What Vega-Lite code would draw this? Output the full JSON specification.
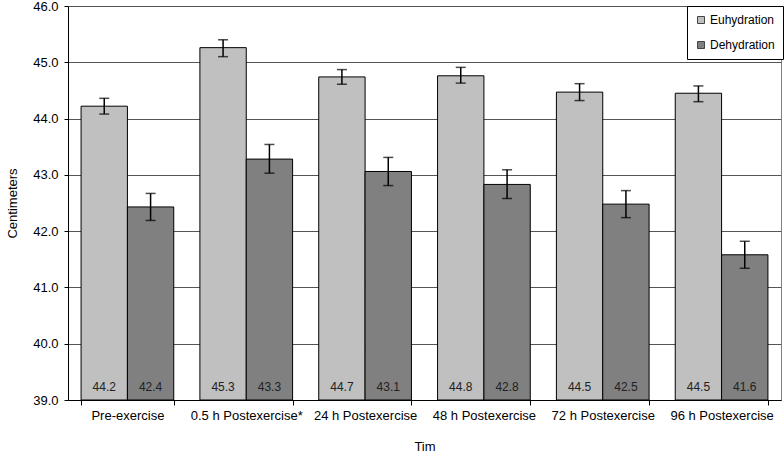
{
  "$schema": "https://vega.github.io/schema/vega-lite/v6.json",
  "width": 713,
  "height": 394,
  "autosize": {"type": "none"},
  "padding": {"left": 68, "top": 6, "right": 3, "bottom": 56},
  "config": {
    "font": "Liberation Sans",
    "view": {"stroke": "#808080", "strokeWidth": 1},
    "axis": {"labelColor": "#000", "titleColor": "#000", "domainColor": "#000", "tickColor": "#000", "labelFontSize": 13, "titleFontSize": 13, "titleFontWeight": "normal"}
  },
  "data": {
    "values": [
      {"time": "Pre-exercise", "cond": "Euhydration", "value": 44.22, "lo": 44.08, "hi": 44.36},
      {"time": "Pre-exercise", "cond": "Dehydration", "value": 42.43, "lo": 42.19, "hi": 42.67},
      {"time": "0.5 h Postexercise*", "cond": "Euhydration", "value": 45.26, "lo": 45.10, "hi": 45.40},
      {"time": "0.5 h Postexercise*", "cond": "Dehydration", "value": 43.28, "lo": 43.03, "hi": 43.54},
      {"time": "24 h Postexercise", "cond": "Euhydration", "value": 44.74, "lo": 44.61, "hi": 44.87},
      {"time": "24 h Postexercise", "cond": "Dehydration", "value": 43.06, "lo": 42.81, "hi": 43.31},
      {"time": "48 h Postexercise", "cond": "Euhydration", "value": 44.76, "lo": 44.63, "hi": 44.91},
      {"time": "48 h Postexercise", "cond": "Dehydration", "value": 42.83, "lo": 42.58, "hi": 43.09},
      {"time": "72 h Postexercise", "cond": "Euhydration", "value": 44.47, "lo": 44.32, "hi": 44.62},
      {"time": "72 h Postexercise", "cond": "Dehydration", "value": 42.48, "lo": 42.24, "hi": 42.72},
      {"time": "96 h Postexercise", "cond": "Euhydration", "value": 44.45, "lo": 44.30, "hi": 44.58},
      {"time": "96 h Postexercise", "cond": "Dehydration", "value": 41.58, "lo": 41.34, "hi": 41.82}
    ]
  },
  "encoding": {
    "x": {
      "field": "time", "type": "nominal", "sort": null,
      "scale": {"paddingInner": 0.22, "paddingOuter": 0.11},
      "axis": {"title": "Tim", "labelAngle": 0, "tickBand": "extent", "tickSize": 5, "labelPadding": 4, "titlePadding": 18, "domainWidth": 1}
    },
    "xOffset": {"field": "cond", "type": "nominal", "sort": ["Euhydration", "Dehydration"], "scale": {"paddingInner": 0, "paddingOuter": 0}}
  },
  "layer": [
    {
      "mark": {"type": "bar", "stroke": "#000", "strokeWidth": 1, "clip": true},
      "encoding": {
        "y": {
          "field": "value", "type": "quantitative",
          "scale": {"domain": [39, 46], "zero": false, "nice": false},
          "axis": {"title": "Centimeters", "format": ".1f", "values": [39, 40, 41, 42, 43, 44, 45, 46], "grid": true, "gridColor": "#555", "gridWidth": 1, "tickSize": 4, "labelPadding": 6, "titlePadding": 13, "domainWidth": 1}
        },
        "y2": {"datum": 39},
        "color": {
          "field": "cond", "type": "nominal",
          "scale": {"domain": ["Euhydration", "Dehydration"], "range": ["#C0C0C0", "#808080"]},
          "legend": {
            "title": null, "orient": "none", "legendX": 619, "legendY": 0,
            "fillColor": "#fff", "strokeColor": "#000", "padding": 8,
            "symbolType": "square", "symbolSize": 49, "symbolStrokeColor": "#444", "symbolStrokeWidth": 1,
            "labelFontSize": 12, "labelColor": "#000", "labelOffset": 3, "rowPadding": 13
          }
        }
      }
    },
    {
      "mark": {"type": "rule", "color": "#000", "strokeWidth": 1.5},
      "encoding": {
        "y": {"field": "lo", "type": "quantitative"},
        "y2": {"field": "hi"}
      }
    },
    {
      "mark": {"type": "tick", "color": "#000", "size": 10, "thickness": 1.5, "orient": "horizontal"},
      "encoding": {"y": {"field": "lo", "type": "quantitative"}}
    },
    {
      "mark": {"type": "tick", "color": "#000", "size": 10, "thickness": 1.5, "orient": "horizontal"},
      "encoding": {"y": {"field": "hi", "type": "quantitative"}}
    },
    {
      "mark": {"type": "text", "fontSize": 12, "color": "#222", "baseline": "middle", "dy": -13.5},
      "encoding": {
        "y": {"datum": 39},
        "text": {"field": "value", "type": "quantitative", "format": ".1f"}
      }
    }
  ]
}
